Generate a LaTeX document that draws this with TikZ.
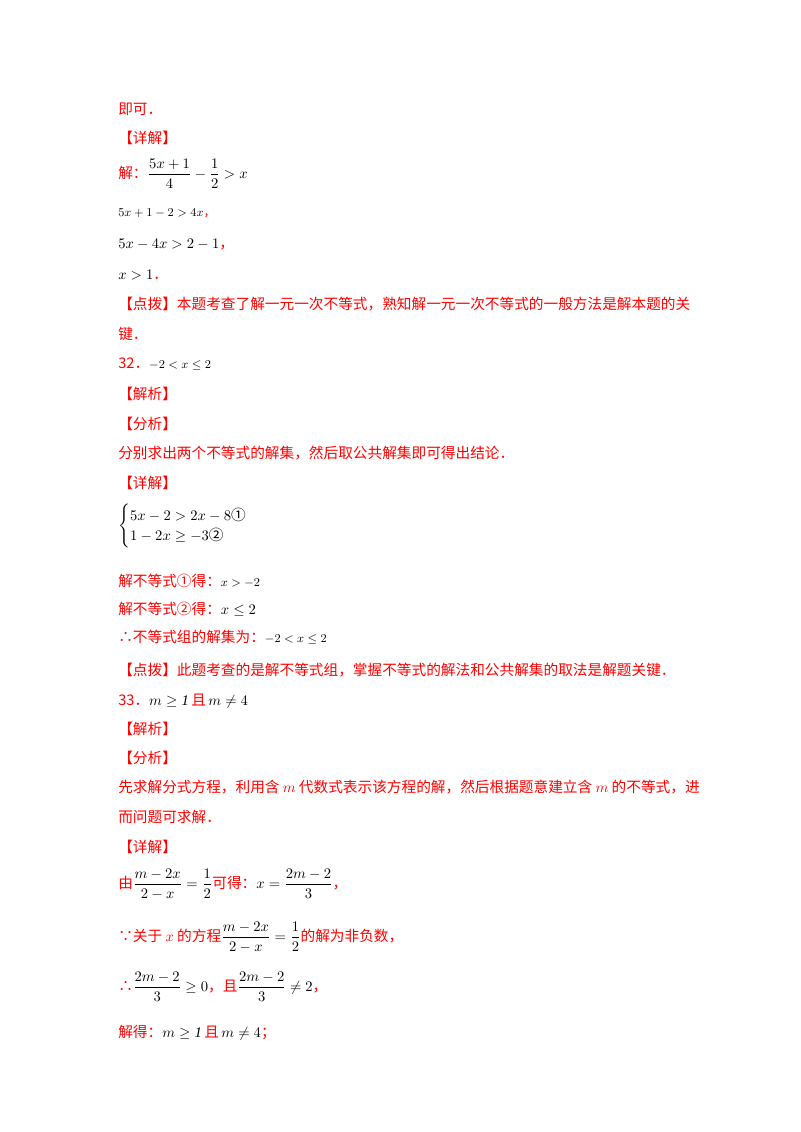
\documentclass[tikz,border=0pt]{standalone}
\usepackage{amsmath}
\usepackage{amssymb}
\usepackage{fontspec}
\setmainfont{Liberation Serif}
\newfontfamily\cjk{Noto Sans CJK SC}
\definecolor{rd}{RGB}{255,0,0}
\newcommand{\R}[1]{\textcolor{rd}{\cjk #1}}
\begin{document}
\begin{tikzpicture}[x=0.75pt,y=-0.75pt,
  ln/.style={anchor=base west,inner sep=0pt,font=\fontsize{11}{13}\selectfont}]
\useasboundingbox[fill=white] (0,0) rectangle (800,1132);
\node[ln] (l1) at (118,114) {\R{即可．}};
\node[ln] (l2) at (118,143) {\R{【详解】}};
\node[ln] (l3) at (118,178) {\R{解：}$\dfrac{5x+1}{4}-\dfrac12>x$};
\node[ln] (l4) at (118,216) {\small$5x+1-2>4x$\R{，}};
\node[ln] (l5) at (118,248) {$5x-4x>2-1$\R{，}};
\node[ln] (l6) at (118,279) {$x>1$\R{．}};
\node[ln] (l7) at (118,309) {\R{【点拨】本题考查了解一元一次不等式，熟知解一元一次不等式的一般方法是解本题的关}};
\node[ln] (l8) at (118,339) {\R{键．}};
\node[ln] (l9) at (118,368) {\R{32．}\small$-2<x\le2$};
\node[ln] (l10) at (118,399) {\R{【解析】}};
\node[ln] (l11) at (118,429) {\R{【分析】}};
\node[ln] (l12) at (118,458) {\R{分别求出两个不等式的解集，然后取公共解集即可得出结论．}};
\node[ln] (l13) at (118,488) {\R{【详解】}};
\node[ln] (l14) at (118,530) {$\begin{cases}5x-2>2x-8\text{\cjk ①}\\ 1-2x\ge-3\text{\cjk ②}\end{cases}$};
\node[ln] (l15) at (118,586) {\R{解不等式①得：}\small$x>-2$};
\node[ln] (l16) at (118,614) {\R{解不等式②得：}$x\le2$};
\node[ln] (l17) at (118,642) {\R{∴不等式组的解集为：}\small$-2<x\le2$};
\node[ln] (l18) at (118,675) {\R{【点拨】此题考查的是解不等式组，掌握不等式的解法和公共解集的取法是解题关键．}};
\node[ln] (l19) at (118,705) {\R{33．}$m\ge\mathit{1}$\,\R{且}\,$m\ne4$};
\node[ln] (l20) at (118,734) {\R{【解析】}};
\node[ln] (l21) at (118,763) {\R{【分析】}};
\node[ln] (l22) at (118,792) {\R{先求解分式方程，利用含 }\textcolor{rd}{$m$}\R{ 代数式表示该方程的解，然后根据题意建立含 }\textcolor{rd}{$m$}\R{ 的不等式，进}};
\node[ln] (l23) at (118,822) {\R{而问题可求解．}};
\node[ln] (l24) at (118,852) {\R{【详解】}};
\node[ln] (l25) at (118,888) {\R{由}$\dfrac{m-2x}{2-x}=\dfrac12$\R{可得：}$x=\dfrac{2m-2}{3}$\R{，}};
\node[ln] (l26) at (118,941) {\R{∵关于 }\textcolor{rd}{$x$}\R{ 的方程}$\dfrac{m-2x}{2-x}=\dfrac12$\R{的解为非负数，}};
\node[ln] (l27) at (118,991) {\R{∴}$\dfrac{2m-2}{3}\ge0$\R{，且}$\dfrac{2m-2}{3}\ne2$\R{，}};
\node[ln] (l28) at (118,1037) {\R{解得：}$m\ge\mathit{1}$\,\R{且}\,$m\ne4$\R{；}};
\end{tikzpicture}
\end{document}
